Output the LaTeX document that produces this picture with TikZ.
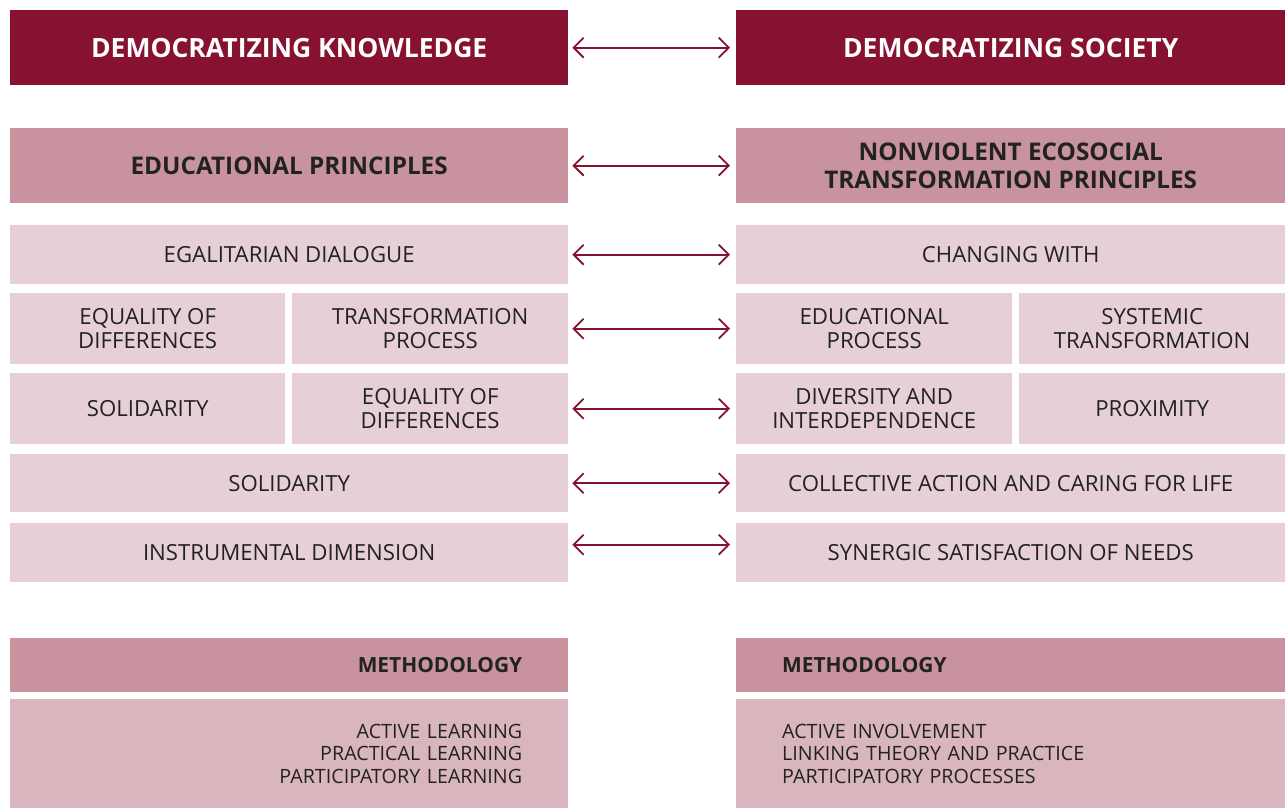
\documentclass[tikz,border=0pt]{standalone}
\usepackage{fontspec}
\setmainfont{Open Sans}
\usetikzlibrary{arrows.meta}

\definecolor{wine}{HTML}{861230}
\definecolor{rosedark}{HTML}{C8939F}
\definecolor{roselight}{HTML}{E6CFD5}
\definecolor{rosemid}{HTML}{D9B5BD}
\definecolor{ink}{HTML}{222222}

\tikzset{
	box/.style={anchor=north west, inner sep=0pt, align=center, text=ink},
	topbox/.style={box, fill=wine, text=white, font=\fontsize{26.5}{30}\selectfont\bfseries},
	headbox/.style={box, fill=rosedark, font=\fontsize{24.3}{28}\selectfont\bfseries},
	methhead/.style={box, fill=rosedark, font=\fontsize{20.9}{24}\selectfont\bfseries},
	itembox/.style={box, fill=roselight, font=\fontsize{22.2}{24}\selectfont},
	methbody/.style={box, fill=rosemid, font=\fontsize{19.7}{22.5}\selectfont},
	link/.style={wine, line width=1.8pt, {Straight Barb[length=10pt,width=20pt]}-{Straight Barb[length=10pt,width=20pt]}, shorten <=4pt, shorten >=6pt},
}

\begin{document}
\begin{tikzpicture}[x=1pt, y=-1pt]
	\useasboundingbox (0,0) rectangle (1285,808);

	% top titles
	\node[topbox, minimum width=558pt, minimum height=75pt] (l1) at (10,10) {DEMOCRATIZING KNOWLEDGE};
	\node[topbox, minimum width=549pt, minimum height=75pt] (r1) at (736,10) {DEMOCRATIZING SOCIETY};

	% principles
	\node[headbox, minimum width=558pt, minimum height=75pt] (l2) at (10,128) {EDUCATIONAL PRINCIPLES};
	\node[headbox, minimum width=549pt, minimum height=75pt] (r2) at (736,128) {NONVIOLENT ECOSOCIAL\\TRANSFORMATION PRINCIPLES};

	\node[itembox, minimum width=558pt, minimum height=59pt] (l3) at (10,225) {EGALITARIAN DIALOGUE};
	\node[itembox, minimum width=549pt, minimum height=59pt] (r3) at (736,225) {CHANGING WITH};

	\node[itembox, minimum width=275pt, minimum height=71pt] (l4a) at (10,293) {EQUALITY OF\\DIFFERENCES};
	\node[itembox, minimum width=276pt, minimum height=71pt] (l4b) at (292,293) {TRANSFORMATION\\PROCESS};
	\node[itembox, minimum width=276pt, minimum height=71pt] (r4a) at (736,293) {EDUCATIONAL\\PROCESS};
	\node[itembox, minimum width=266pt, minimum height=71pt] (r4b) at (1019,293) {SYSTEMIC\\TRANSFORMATION};

	\node[itembox, minimum width=275pt, minimum height=71pt] (l5a) at (10,373) {SOLIDARITY};
	\node[itembox, minimum width=276pt, minimum height=71pt] (l5b) at (292,373) {EQUALITY OF\\DIFFERENCES};
	\node[itembox, minimum width=276pt, minimum height=71pt] (r5a) at (736,373) {DIVERSITY AND\\INTERDEPENDENCE};
	\node[itembox, minimum width=266pt, minimum height=71pt] (r5b) at (1019,373) {PROXIMITY};

	\node[itembox, minimum width=558pt, minimum height=58pt] (l6) at (10,454) {SOLIDARITY};
	\node[itembox, minimum width=549pt, minimum height=58pt] (r6) at (736,454) {COLLECTIVE ACTION AND CARING FOR LIFE};

	\node[itembox, minimum width=558pt, minimum height=59pt] (l7) at (10,523) {INSTRUMENTAL DIMENSION};
	\node[itembox, minimum width=549pt, minimum height=59pt] (r7) at (736,523) {SYNERGIC SATISFACTION OF NEEDS};

	% methodology
	\node[methhead, minimum height=54pt, inner xsep=46pt, text width=466pt, align=right] (lm) at (10,638) {METHODOLOGY};
	\node[methhead, minimum height=54pt, inner xsep=46pt, text width=457pt, align=left] (rm) at (736,638) {METHODOLOGY};
	\node[methbody, minimum height=109pt, inner xsep=46pt, text width=466pt, align=right] (lb) at (10,699) {ACTIVE LEARNING\\PRACTICAL LEARNING\\PARTICIPATORY LEARNING};
	\node[methbody, minimum height=109pt, inner xsep=46pt, text width=457pt, align=left] (rb) at (736,699) {ACTIVE INVOLVEMENT\\LINKING THEORY AND PRACTICE\\PARTICIPATORY PROCESSES};

	% links
	\draw[link] (l1.east) -- (r1.west);
	\draw[link] (l2.east) -- (r2.west);
	\draw[link] (l3.east) -- (r3.west);
	\draw[link] (l4b.east) -- (r4a.west);
	\draw[link] (l5b.east) -- (r5a.west);
	\draw[link] (l6.east) -- (r6.west);
	\draw[link] ([yshift=8pt]l7.east) -- ([yshift=8pt]r7.west);
\end{tikzpicture}
\end{document}
